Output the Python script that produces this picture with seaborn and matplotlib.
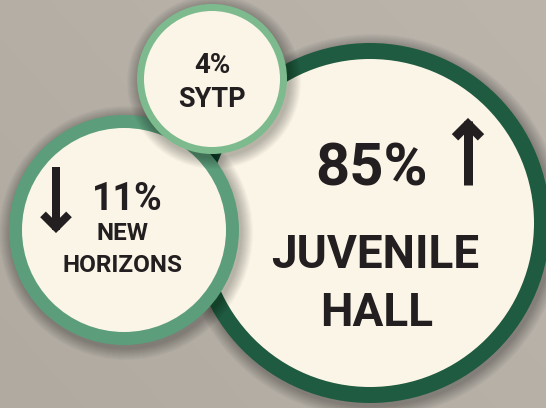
import numpy as np
import matplotlib
matplotlib.use("Agg")
import matplotlib.pyplot as plt
from matplotlib.patches import Circle
import seaborn as sns

# ---- data ----
categories = ["JUVENILE HALL", "NEW HORIZONS", "SYTP"]
name_lines = [["JUVENILE", "HALL"], ["NEW", "HORIZONS"], ["SYTP"]]
percents = [85, 11, 4]
trends = ["up", "down", None]

# ---- layout (pixel space) ----
centers = [(370, 223), (124, 230), (212, 79)]
radii = [180, 115, 75]
ring_w = [16, 13, 7]
ring_colors = ["#1f5b40", "#5c9e7b", "#7dba8e"]
cream = "#fbf5e7"
ink = "#231f20"
bg = "#b5afa6"

pct_size = [43, 27, 20]
pct_base = [186, 210, 73]
pct_x = [372, 127, 212]
name_size = [33, 17.5, 19.5]
name_bases = [[268, 326], [240, 272], [107]]
name_x = [[375, 377], [123, 123], [212]]

sns.set_theme(style="white")
plt.rcParams["font.family"] = ["Roboto", "DejaVu Sans"]

W, H = 546, 408
fig = plt.figure(figsize=(W / 100, H / 100), dpi=100)
ax = fig.add_axes([0, 0, 1, 1])
ax.set_xlim(0, W)
ax.set_ylim(H, 0)
ax.axis("off")

# background with subtle gradient
gx = np.linspace(0, 1, 200)
gy = np.linspace(0, 1, 150)
GX, GY = np.meshgrid(gx, gy)
c0 = np.array(matplotlib.colors.to_rgb("#b0aaa1"))
c1 = np.array(matplotlib.colors.to_rgb("#bbb5ac"))
t = (0.6 * GX + 0.4 * (1 - GY))[..., None]
img = c0 * (1 - t) + c1 * t
ax.imshow(img, extent=[0, W, H, 0], aspect="auto", zorder=0)

for i in range(len(categories)):
    cx, cy = centers[i]
    r = radii[i]
    z = 2 + i * 3
    # soft drop shadow
    for k in range(1, 13):
        ax.add_patch(Circle((cx + 2, cy + 3), r + k, facecolor="#000000",
                            edgecolor="none", alpha=0.022, zorder=z))
    ax.add_patch(Circle((cx, cy), r, facecolor=ring_colors[i],
                        edgecolor="none", zorder=z + 1))
    ax.add_patch(Circle((cx, cy), r - ring_w[i], facecolor=cream,
                        edgecolor="none", zorder=z + 1.5))
    ax.text(pct_x[i], pct_base[i], f"{percents[i]}%", fontsize=pct_size[i],
            fontweight="bold", color=ink, ha="center", va="baseline",
            zorder=20)
    for line, yb, xx in zip(name_lines[i], name_bases[i], name_x[i]):
        ax.text(xx, yb, line, fontsize=name_size[i], fontweight="bold",
                color=ink, ha="center", va="baseline", zorder=20)

# trend arrows
def arrow(x, y_tail, y_tip, w_px, head_half):
    d = 1 if y_tip > y_tail else -1
    lw = w_px * 0.72
    ax.plot([x, x], [y_tail, y_tip - d * 3], color=ink, lw=lw,
            solid_capstyle="butt", zorder=21)
    vy = y_tip - d * w_px * 0.7
    ax.plot([x - head_half, x, x + head_half],
            [vy - d * head_half, vy, vy - d * head_half],
            color=ink, lw=lw, solid_joinstyle="miter",
            solid_capstyle="butt", zorder=21)

for i, tr in enumerate(trends):
    if tr == "up":
        arrow(468, 185, 118, 9, 13)
    elif tr == "down":
        arrow(56, 167, 233, 8, 13)

fig.savefig("out.png", dpi=100, facecolor=bg)
